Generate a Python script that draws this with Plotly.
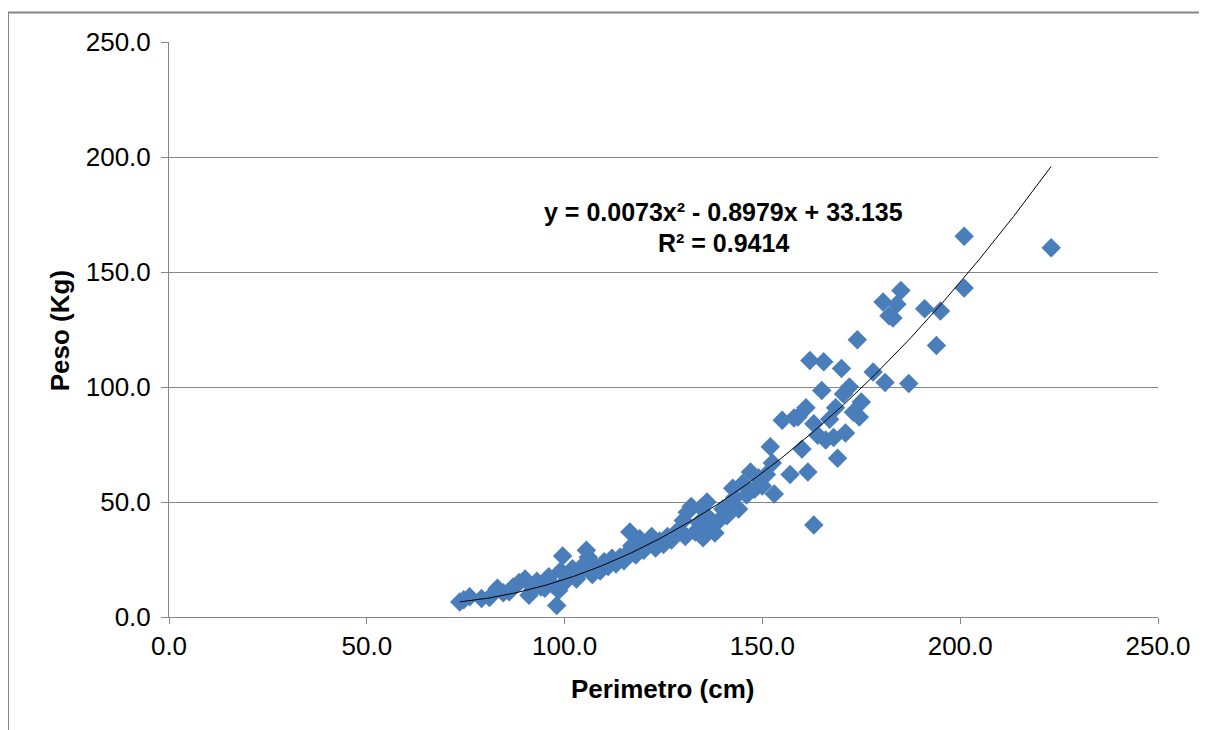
import plotly.graph_objects as go
import numpy as np

perimetro = [73.5, 74.5, 76, 79, 81, 83, 84.5, 86, 87, 88.5, 90, 91, 92, 93, 94, 95, 96, 97, 98, 98.5,
             99, 99.5, 100, 101, 102, 103, 104, 105, 105.5, 106, 107, 108, 109, 110, 111, 112, 113, 114, 115, 116,
             116.5, 117, 118, 119, 120, 121, 122, 123, 124, 125, 126, 127, 128, 129, 130, 130.5, 131, 132, 133, 134,
             134.5, 135, 136, 136.5, 137, 138, 139, 140, 141, 142, 142.5, 143, 144, 145, 146, 147, 148, 149, 150, 151,
             152, 152.5, 153, 155, 157, 158, 159, 160, 161, 161.5, 162, 163, 163, 164, 165, 165.5, 166, 167, 168, 168.5,
             169, 170, 170.5, 171, 172, 173, 174, 174.5, 175, 178, 180.5, 181, 182, 183, 184, 185, 187, 191, 194, 195,
             201, 201, 223]
peso = [6.5, 7.5, 8.8, 8.0, 8.5, 12.5, 10.5, 11.0, 13.0, 15.0, 16.5, 9.5, 12.0, 15.5, 13.0, 12.5, 17.5, 14.0, 5.0, 11.5,
        20.0, 26.5, 15.0, 18.0, 21.0, 16.5, 19.5, 23.0, 29.0, 26.0, 18.5, 21.5, 20.0, 24.0, 22.0, 25.5, 23.0, 26.0, 24.5, 28.0,
        37.0, 31.0, 27.0, 34.0, 29.0, 32.5, 35.0, 30.0, 33.0, 31.5, 35.0, 33.5, 36.5, 38.0, 42.0, 35.0, 45.5, 48.0, 37.0, 41.0,
        47.5, 34.5, 50.0, 43.0, 39.0, 36.5, 42.0, 47.0, 44.0, 49.5, 56.0, 52.0, 47.0, 58.0, 53.0, 63.0, 55.5, 60.5, 57.0, 62.0,
        74.0, 67.0, 53.5, 85.5, 62.0, 86.5, 87.0, 73.0, 91.0, 63.0, 111.5, 84.0, 40.0, 79.0, 98.5, 111.0, 77.0, 86.0, 78.0, 91.0,
        69.0, 108.0, 97.0, 80.0, 100.0, 89.0, 120.5, 87.0, 93.5, 106.5, 137.0, 102.0, 131.0, 130.0, 136.0, 142.0, 101.5, 134.0, 118.0, 133.0,
        165.5, 143.0, 160.5]

# Trendline coefficients as printed on the chart
coef = [0.0073, -0.8979, 33.135]
eq_text = "y = 0.0073x² - 0.8979x + 33.135"
r2_text = "R² = 0.9414"
x_title = "Perimetro (cm)"
y_title = "Peso (Kg)"

x_ticks = [0, 50, 100, 150, 200, 250]
y_ticks = [0, 50, 100, 150, 200, 250]

xt = np.linspace(min(perimetro), max(perimetro), 300)
yt = np.polyval(coef, xt)

FONT = "Liberation Sans, Arial, sans-serif"
GRAY = "#868686"

# plot area in screen pixels (page has an 8px body offset)
PL, PR, PT, PB = 169, 1158, 41.5, 617
PW, PH = PR - PL, PB - PT


def px(x):
    return (x - PL) / PW


def py(y):
    return (PB - y) / PH


fig = go.Figure()
fig.add_trace(go.Scatter(x=perimetro, y=peso, mode="markers",
                         marker=dict(symbol="diamond", size=15, color="#4A7EBB",
                                     line=dict(width=0)),
                         showlegend=False, hoverinfo="x+y"))
fig.add_trace(go.Scatter(x=xt, y=yt, mode="lines",
                         line=dict(color="black", width=1),
                         showlegend=False, hoverinfo="skip"))

fig.update_layout(
    width=1207, height=730,
    margin=dict(l=PL - 8, r=1207 + 8 - PR, t=PT - 8, b=730 + 8 - PB),
    paper_bgcolor="white", plot_bgcolor="white",
    font=dict(family=FONT, color="black"),
    xaxis=dict(range=[0, 250], tickvals=x_ticks, ticktext=[f"{v:.1f}" for v in x_ticks],
               showgrid=False, zeroline=False, showline=True, linecolor=GRAY, linewidth=1,
               ticks="outside", ticklen=6, tickcolor=GRAY, tickfont=dict(size=26)),
    yaxis=dict(range=[0, 250], tickvals=y_ticks, ticktext=[f"{v:.1f}" for v in y_ticks],
               showgrid=True, gridcolor=GRAY, gridwidth=1, zeroline=False,
               showline=True, linecolor=GRAY, linewidth=1,
               ticks="outside", ticklen=7, tickcolor=GRAY, tickfont=dict(size=26),
               ticklabelstandoff=5),
    annotations=[
        dict(xref="paper", yref="paper", x=px(723), y=py(212),
             text="<b>" + eq_text + "</b>", showarrow=False, font=dict(size=25),
             xanchor="center", yanchor="middle"),
        dict(xref="paper", yref="paper", x=px(723), y=py(243),
             text="<b>" + r2_text + "</b>", showarrow=False, font=dict(size=25),
             xanchor="center", yanchor="middle"),
        dict(xref="paper", yref="paper", x=px(663), y=py(689),
             text="<b>" + x_title + "</b>", showarrow=False, font=dict(size=26),
             xanchor="center", yanchor="middle"),
        dict(xref="paper", yref="paper", x=px(60), y=py(331),
             text="<b>" + y_title + "</b>", showarrow=False, font=dict(size=26),
             textangle=-90, xanchor="center", yanchor="middle"),
    ],
    shapes=[
        dict(type="line", xref="paper", yref="paper", x0=px(8), x1=px(8),
             y0=py(12), y1=py(760), line=dict(color=GRAY, width=2)),
        dict(type="line", xref="paper", yref="paper", x0=px(8), x1=px(1240),
             y0=py(12), y1=py(12), line=dict(color=GRAY, width=2)),
    ],
)

fig.write_html("out.html")
